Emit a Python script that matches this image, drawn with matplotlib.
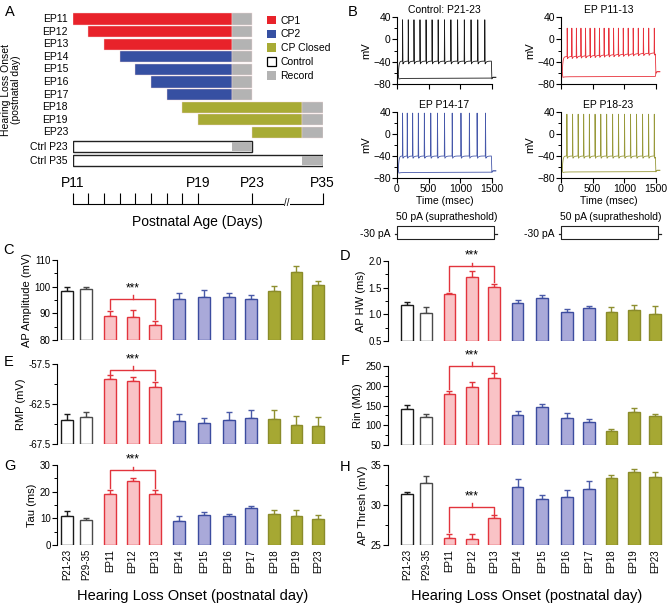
import numpy as np
import matplotlib
matplotlib.use('Agg')
import matplotlib.pyplot as plt
from matplotlib.patches import Patch
from matplotlib.transforms import blended_transform_factory as btf
from matplotlib.ticker import MultipleLocator

plt.rcParams['font.family'] = ['Liberation Sans', 'DejaVu Sans']
plt.rcParams['axes.linewidth'] = 0.8

# ---------------- DATA ----------------
# Panel A (timeline of hearing loss onset)
ep_groups = ['EP11', 'EP12', 'EP13', 'EP14', 'EP15', 'EP16', 'EP17', 'EP18', 'EP19', 'EP23']
ep_onset = [11, 12, 13, 14, 15, 16, 17, 18, 19, 23]
ep_end = [23, 23, 23, 23, 23, 23, 23, 35, 35, 35]
ep_rec_start = [21.5, 21.5, 21.5, 21.5, 21.5, 21.5, 21.5, 31.5, 31.5, 31.5]
ep_class = ['CP1', 'CP1', 'CP1', 'CP2', 'CP2', 'CP2', 'CP2', 'CP Closed', 'CP Closed', 'CP Closed']
ctrl_groups = ['Ctrl P23', 'Ctrl P35']
ctrl_end = [23, 35]
ctrl_rec_start = [21.5, 31.5]
legend_labels = ['CP1', 'CP2', 'CP Closed', 'Control', 'Record']
timeline_days = [11, 12, 13, 14, 15, 16, 17, 18, 19, 23, 35]
timeline_labels = {11: 'P11', 19: 'P19', 23: 'P23', 35: 'P35'}

# Panel B (example traces)
trace_titles = ['Control: P21-23', 'EP P11-13', 'EP P14-17', 'EP P18-23']
spikes_ctrl = [85, 175, 265, 360, 456, 551, 647, 747, 848, 954, 1060, 1166, 1272, 1383]
spikes_ep11_13 = [95, 168, 240, 312, 384, 456, 530, 604, 678, 753, 827, 903, 980, 1058,
                  1137, 1217, 1298, 1382, 1470]
spikes_ep14_17 = [85, 159, 244, 334, 429, 530, 636, 747, 869, 1007, 1140, 1262, 1394]
spikes_ep18_23 = [90, 180, 268, 355, 445, 535, 625, 718, 812, 905, 1000, 1095, 1190,
                  1285, 1380, 1470]
spike_peak_mv = [35, 20, 38, 36]
ahp_trough_mv = [-44, -35, -44, -44]
interspike_mv = [-39, -31, -40, -40]
depol_drift_mv = [0, 7, 0, 0]
hyperpol_mv = [-70, -67, -70, -69]
rest_start_mv = [-65, -60, -66, -66]
rest_end_mv = [-68, -58, -67, -66]
step_pA = [50, -30]

# Panels C-H (bar charts)
categories = ['P21-23', 'P29-35', 'EP11', 'EP12', 'EP13', 'EP14', 'EP15', 'EP16',
              'EP17', 'EP18', 'EP19', 'EP23']
ap_amp_mean = [98.2, 99.0, 89.0, 88.6, 85.6, 95.2, 96.0, 96.0, 95.5, 98.2, 105.5, 100.5]
ap_amp_sem = [1.8, 1.0, 2.0, 2.6, 1.5, 2.3, 2.8, 1.5, 1.3, 2.0, 2.3, 1.5]
ap_hw_mean = [1.17, 1.02, 1.38, 1.70, 1.51, 1.21, 1.31, 1.05, 1.11, 1.04, 1.08, 1.01]
ap_hw_sem = [0.07, 0.11, 0.02, 0.12, 0.06, 0.06, 0.05, 0.05, 0.05, 0.10, 0.09, 0.14]
rmp_mean = [-64.45, -64.15, -59.35, -59.65, -60.4, -64.6, -64.85, -64.45, -64.3,
            -64.4, -65.15, -65.25]
rmp_sem = [0.7, 0.6, 0.45, 0.5, 0.65, 0.8, 0.55, 1.0, 1.05, 1.1, 1.1, 1.15]
rin_mean = [141, 121, 180, 196, 219, 127, 145, 119, 108, 85, 134, 123]
rin_sem = [11, 7, 7, 14, 13, 8, 9, 12, 9, 5, 9, 5]
tau_mean = [11.0, 9.3, 19.0, 24.0, 19.2, 9.0, 11.3, 10.7, 14.0, 11.6, 10.9, 9.6]
tau_sem = [1.8, 0.8, 1.8, 1.3, 1.5, 1.8, 1.2, 1.0, 0.8, 1.7, 2.3, 1.6]
thr_mean = [31.4, 32.7, 25.9, 25.8, 28.4, 32.2, 30.8, 31.0, 32.0, 33.4, 34.1, 33.5]
thr_sem = [0.2, 0.9, 0.5, 0.6, 0.3, 1.0, 0.4, 0.9, 1.0, 0.4, 0.4, 0.6]
bar_group = ['ctrl', 'ctrl2', 'cp1', 'cp1', 'cp1', 'cp2', 'cp2', 'cp2', 'cp2',
             'cpc', 'cpc', 'cpc']

# ---------------- STYLE / LAYOUT ----------------
W, H = 667, 605
fig = plt.figure(figsize=(W / 100, H / 100), dpi=100)

def add_ax(l, t, r, b):
    return fig.add_axes([l / W, 1 - b / H, (r - l) / W, (b - t) / H])

def ftext(x, y, s, **kw):
    fig.text(x / W, 1 - y / H, s, **kw)

C_CP1, C_CP2, C_CPC, C_REC = '#e8222a', '#3650a2', '#a8ab35', '#b3b3b3'
class_color = {'CP1': C_CP1, 'CP2': C_CP2, 'CP Closed': C_CPC}

# day -> position scale (non-uniform timeline)
knot_days = [11, 19, 23, 35]
knot_pos = [0.0, 8.0, 11.47, 15.96]
fwd = lambda d: np.interp(d, knot_days, knot_pos)
inv = lambda p: np.interp(p, knot_pos, knot_days)

# ---------------- PANEL A ----------------
axA = add_ax(72.7, 12, 322.7, 168)
axA.set_xscale('function', functions=(fwd, inv))
axA.set_xlim(11, 35)
axA.set_ylim(168, 12)
axA.axis('off')
ep_rows = [19, 31.6, 44.2, 56.8, 69.4, 82, 94.6, 107.2, 119.8, 132.4]
ctrl_rows = [146.5, 160.5]
for y, g, on, en, rs, cl in zip(ep_rows, ep_groups, ep_onset, ep_end, ep_rec_start, ep_class):
    axA.barh(y, rs - on, left=on, height=11.2, color=class_color[cl],
             edgecolor='#f4d6d6', linewidth=0.3)
    axA.barh(y, en - rs, left=rs, height=11.2, color=C_REC, edgecolor='#f4d6d6', linewidth=0.3)
    ftext(68, y, g, ha='right', va='center', fontsize=7.5)
for y, g, en, rs in zip(ctrl_rows, ctrl_groups, ctrl_end, ctrl_rec_start):
    axA.barh(y, en - 11, left=11, height=11.5, color='white', edgecolor='#222222', linewidth=1.0)
    axA.barh(y, en - rs, left=rs, height=8.5, color=C_REC, linewidth=0)
    ftext(68, y, g, ha='right', va='center', fontsize=7.5)
ftext(11, 90, 'Hearing Loss Onset\n(postnatal day)', rotation=90, ha='center', va='center',
      fontsize=7.5, linespacing=1.1)

handles = [Patch(facecolor=C_CP1, edgecolor='none'), Patch(facecolor=C_CP2, edgecolor='none'),
           Patch(facecolor=C_CPC, edgecolor='none'),
           Patch(facecolor='white', edgecolor='black', linewidth=0.9),
           Patch(facecolor=C_REC, edgecolor='none')]
fig.legend(handles, legend_labels, loc='upper left', bbox_to_anchor=(267 / W, 1 - 15.5 / H),
           frameon=False, fontsize=7.5, handlelength=0.9, handleheight=0.9,
           handletextpad=0.4, labelspacing=0.38, borderpad=0, borderaxespad=0)

axT = add_ax(72.7, 190, 322.7, 203.5)
axT.set_xscale('function', functions=(fwd, inv))
axT.set_xlim(11, 35)
axT.set_ylim(0, 1)
for s in ['top', 'left', 'right']:
    axT.spines[s].set_visible(False)
axT.set_yticks([])
axT.set_xticks(timeline_days)
axT.set_xticklabels([])
axT.tick_params(axis='x', direction='in', length=8, width=0.8)
tr = btf(axT.transData, axT.transAxes)
for d, lab in timeline_labels.items():
    axT.text(d, 1.55, lab, transform=tr, ha='center', va='center', fontsize=10)
axT.text(28.9, 0.05, '//', transform=tr, ha='center', va='center', fontsize=7,
         bbox=dict(facecolor='white', edgecolor='none', pad=0))
ftext(197, 222, 'Postnatal Age (Days)', ha='center', va='center', fontsize=10)

# ---------------- PANEL B ----------------
PULSE_ON, PULSE_OFF, T_END = 20, 1490, 1560

def depol_trace(spk, peak, trough, pre, rest, end_v, drift):
    T, V = [], []
    tt = np.linspace(PULSE_ON, spk[0] - 1, 12)
    T += list(tt)
    V += list(rest + (pre - rest) * (1 - np.exp(-(tt - PULSE_ON) / 10)))
    for i, ts in enumerate(spk):
        p = pre + drift * ts / 1500
        tr_ = trough + drift * ts / 1500
        T += [ts, ts + 3, ts + 8]
        V += [p, peak, tr_]
        nxt = spk[i + 1] if i + 1 < len(spk) else PULSE_OFF
        tt = np.linspace(ts + 9, nxt - 1, 10)
        T += list(tt)
        V += list(p - (p - tr_) * np.exp(-(tt - ts - 9) / 18))
    T += [PULSE_OFF, PULSE_OFF + 8, PULSE_OFF + 25, T_END]
    V += [V[-1], end_v - 3, end_v, end_v]
    return np.array(T), np.array(V)

def hyper_trace(hyp, rest, end_v):
    T = [PULSE_ON, PULSE_ON + 10, PULSE_ON + 40, PULSE_ON + 120, PULSE_OFF, PULSE_OFF + 10,
         PULSE_OFF + 30, T_END]
    V = [rest, hyp - 1, hyp - 0.3, hyp, hyp + 0.6, end_v - 1.5, end_v, end_v]
    return np.array(T), np.array(V)

spike_sets = [spikes_ctrl, spikes_ep11_13, spikes_ep14_17, spikes_ep18_23]
trace_colors = ['#1a1a1a', '#e8323c', '#4658aa', '#98993a']
b_boxes = [(397, 17, 492, 84), (561, 17, 656, 84), (397, 112, 492, 178), (561, 112, 656, 178)]
for k in range(4):
    l, t, r, b = b_boxes[k]
    ax = add_ax(l, t, r, b)
    Td, Vd = depol_trace(spike_sets[k], spike_peak_mv[k], ahp_trough_mv[k], interspike_mv[k],
                         rest_start_mv[k], rest_end_mv[k], depol_drift_mv[k])
    Th, Vh = hyper_trace(hyperpol_mv[k], rest_start_mv[k], rest_end_mv[k])
    ax.plot(Td, Vd, color=trace_colors[k], lw=0.6, clip_on=False)
    ax.plot(Th, Vh, color=trace_colors[k], lw=0.6, clip_on=False)
    ax.set_xlim(0, 1500)
    ax.set_ylim(-80, 40)
    ax.spines['top'].set_visible(False)
    ax.spines['right'].set_visible(False)
    ax.set_yticks([-80, -40, 0, 40])
    ax.yaxis.set_minor_locator(MultipleLocator(20))
    ax.set_xticks([0, 500, 1000, 1500])
    ax.tick_params(labelsize=7.5, length=3.5, width=0.8, pad=1)
    ax.tick_params(which='minor', length=2, width=0.7)
    ax.set_ylabel('mV', fontsize=8, labelpad=1)
    ax.set_title(trace_titles[k], fontsize=7.5, pad=3)
    if k < 2:
        ax.set_xticklabels([])
    else:
        ax.set_xlabel('Time (msec)', fontsize=7.5, labelpad=1)
        # current step protocol
        axs = add_ax(l - 2, 226, r + 6, 239)
        st = [-25, 0, 0, PULSE_OFF - 10, PULSE_OFF - 10, PULSE_OFF + 35]
        for amp in step_pA:
            axs.plot(st, [0, 0, amp, amp, 0, 0], color='#222222', lw=0.8, clip_on=False)
        axs.set_xlim(-30, 1540)
        axs.set_ylim(-32, 52)
        axs.axis('off')
        ftext((l + r) / 2 + 2, 216.5, '50 pA (supratheshold)', ha='center', va='center', fontsize=7.5)
        ftext(l - 6, 234, '-30 pA', ha='right', va='center', fontsize=7.5)

# ---------------- PANELS C-H ----------------
styles = {
    'ctrl': ('white', '#1a1a1a', '#1a1a1a'),
    'ctrl2': ('white', '#4a4a4a', '#4a4a4a'),
    'cp1': ('#f9c3c6', '#e2343d', '#e2343d'),
    'cp2': ('#a9a9d9', '#3c4c9f', '#4a5aa8'),
    'cpc': ('#a6a833', '#8a8b2a', '#8e8f30'),
}
xpos = np.array([0, 0.85, 1.9, 2.9, 3.9, 4.95, 6.05, 7.15, 8.15, 9.15, 10.15, 11.1])

panels = [
    ('C', (57, 260, 328, 340), ap_amp_mean, ap_amp_sem, (80, 110), 10, 5, 'AP Amplitude (mV)', 95.5, '{:.0f}'),
    ('D', (388, 261, 665, 341), ap_hw_mean, ap_hw_sem, (0.5, 2.0), 0.5, 0.25, 'AP HW (ms)', 1.91, '{:.1f}'),
    ('E', (57, 364, 328, 444), rmp_mean, rmp_sem, (-67.5, -57.5), 5, 2.5, 'RMP (mV)', -58.2, '{:.1f}'),
    ('F', (388, 366, 665, 445), rin_mean, rin_sem, (50, 250), 50, 25, 'Rin (M\u03a9)', 251, '{:.0f}'),
    ('G', (57, 465, 328, 545), tau_mean, tau_sem, (0, 30), 10, 5, 'Tau (ms)', 28.2, '{:.0f}'),
    ('H', (388, 465, 665, 545), thr_mean, thr_sem, (25, 35), 5, 2.5, 'AP Thresh (mV)', 29.8, '{:.0f}'),
]
letter_pos = {'C': (3, 250), 'D': (340, 256), 'E': (4, 362), 'F': (341, 361), 'G': (4, 466), 'H': (340, 467)}

for letter, box, mean, sem, ylim, major, minor, ylabel, sig_y, fmt in panels:
    l, t, r, b = box
    ax = add_ax(l, t, r, b)
    mean = np.array(mean)
    sem = np.array(sem)
    base = ylim[0]
    for i in range(len(categories)):
        fc, ec, erc = styles[bar_group[i]]
        ax.bar(xpos[i], mean[i] - base, bottom=base, width=0.52, color=fc, edgecolor=ec,
               linewidth=1.0, zorder=2)
        ax.errorbar(xpos[i], mean[i], yerr=[[0], [sem[i]]], fmt='none', ecolor=erc,
                    elinewidth=1.0, capsize=2, capthick=1.0, zorder=1)
    left_lim = -0.45 if l < 200 else -0.85
    ax.set_xlim(left_lim, 11.55)
    ax.set_ylim(*ylim)
    for s in ['top', 'right', 'bottom']:
        ax.spines[s].set_visible(False)
    ax.set_yticks(np.arange(ylim[0], ylim[1] + 1e-9, major))
    ax.yaxis.set_minor_locator(MultipleLocator(minor))
    ax.set_yticklabels([fmt.format(v) for v in np.arange(ylim[0], ylim[1] + 1e-9, major)])
    ax.tick_params(axis='y', labelsize=7, length=3.5, width=0.8, pad=1)
    ax.tick_params(axis='y', which='minor', length=2, width=0.7)
    ax.set_ylabel(ylabel, fontsize=8, labelpad=2)
    ax.set_xticks(xpos)
    if letter in ('G', 'H'):
        ax.set_xticklabels(categories, rotation=90, fontsize=7)
        ax.tick_params(axis='x', length=0, pad=3)
        ax.set_xlabel('Hearing Loss Onset (postnatal day)', fontsize=10.5, labelpad=6)
    else:
        ax.set_xticks([])
    # significance bracket
    rng = ylim[1] - ylim[0]
    x1, x2 = xpos[2], xpos[4]
    y1 = mean[2] + sem[2] + 0.02 * rng
    y2 = mean[4] + sem[4] + 0.02 * rng
    sc = '#e2343d'
    ax.plot([x1, x1, x2, x2], [y1, sig_y, sig_y, y2], color=sc, lw=1.0, clip_on=False, zorder=3)
    ax.plot([xpos[3], xpos[3]], [sig_y, sig_y + 0.04 * rng], color=sc, lw=1.0, clip_on=False)
    ax.text(xpos[3], sig_y + 0.05 * rng, '***', ha='center', va='bottom', fontsize=8.5,
            clip_on=False)
    lx, ly = letter_pos[letter]
    ftext(lx, ly, letter, ha='left', va='center', fontsize=10.5)

ftext(5, 12, 'A', ha='left', va='center', fontsize=10.5)
ftext(348, 12, 'B', ha='left', va='center', fontsize=10.5)

fig.savefig('out.png', dpi=100)
